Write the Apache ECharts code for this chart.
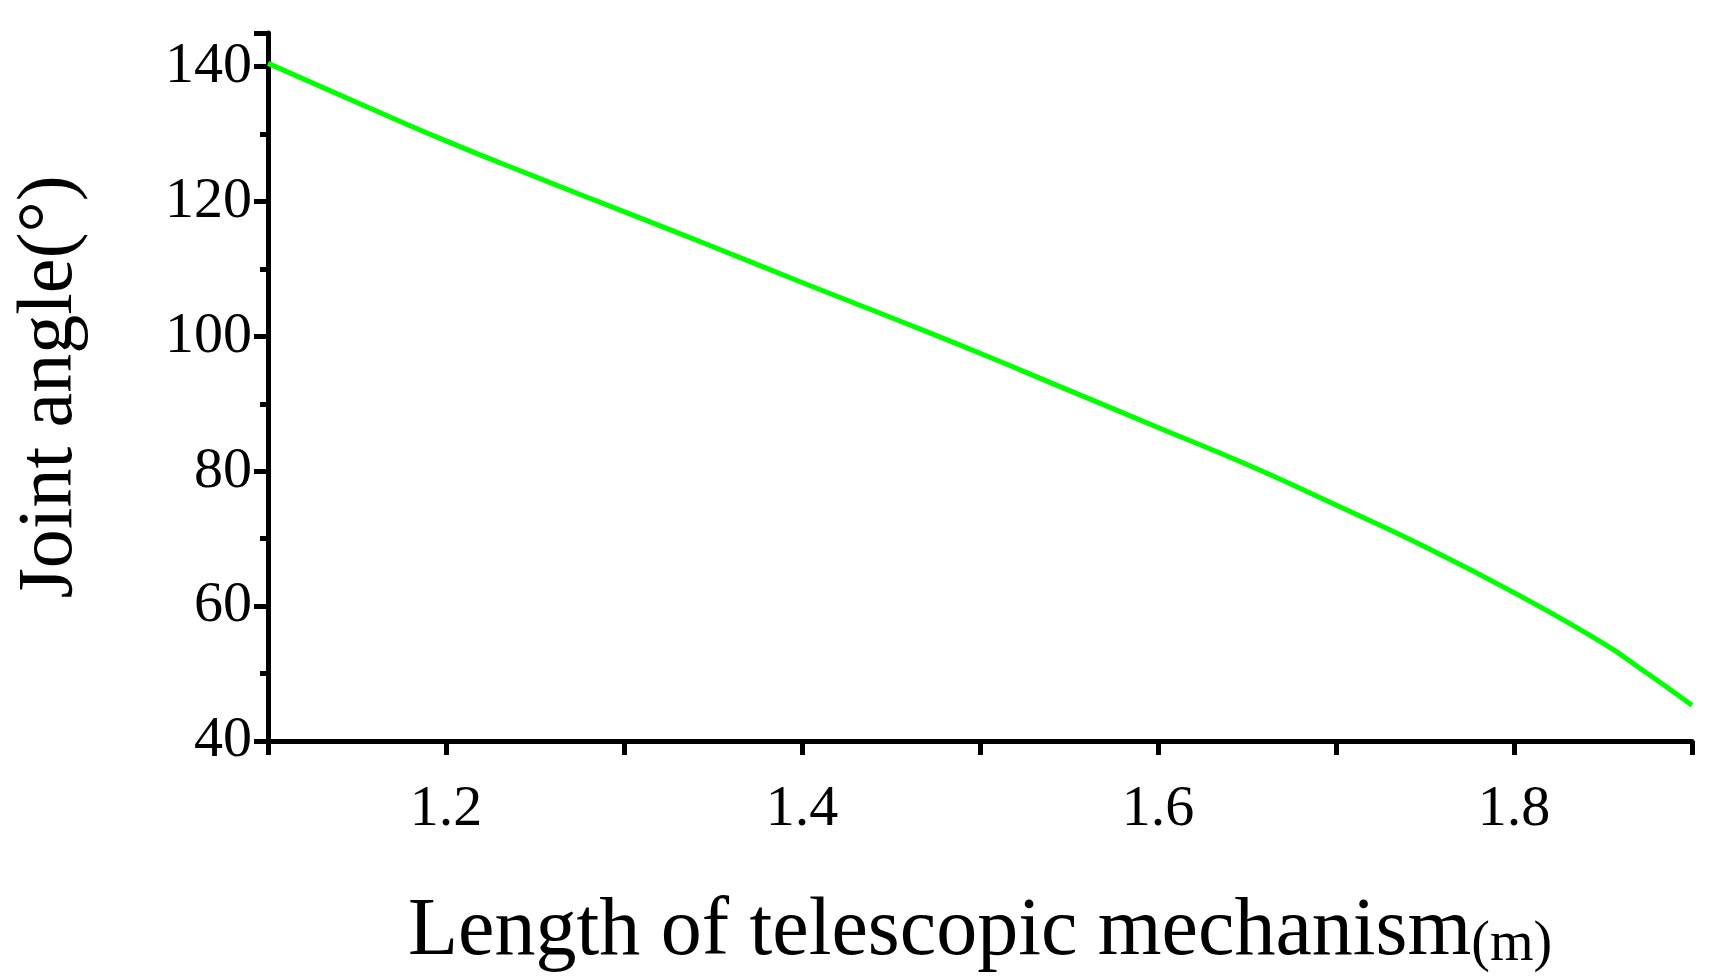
<!DOCTYPE html>
<html><head><meta charset="utf-8">
<script src="https://cdn.jsdelivr.net/npm/echarts@6/dist/echarts.min.js"></script>
<style>html,body{margin:0;background:#fff}#c{width:1728px;height:978px}</style>
</head><body><div id="c"></div>
<script>
var lengths = [1.1, 1.15, 1.2, 1.25, 1.3, 1.35, 1.4, 1.45, 1.5, 1.55, 1.6, 1.65, 1.7, 1.75, 1.8, 1.85, 1.875, 1.9];
var angles = [140.5, 134.7, 129, 123.7, 118.5, 113.3, 108, 102.8, 97.5, 92, 86.5, 81, 75, 68.8, 62, 54.5, 50, 45.3];
var xLabels = ['1.2', '1.4', '1.6', '1.8'];

var font = 'Liberation Serif';
var chart = echarts.init(document.getElementById('c'));
chart.setOption({
    animation: false,
    grid: {left: 268, right: 36, top: 33, bottom: 206},
    xAxis: {
        type: 'value', min: 1.1, max: 1.9, interval: 0.1,
        axisLine: {lineStyle: {color: '#000', width: 5}},
        axisTick: {length: 14, lineStyle: {color: '#000', width: 5}},
        splitLine: {show: false},
        axisLabel: {
            color: '#000', fontFamily: font, fontSize: 58, margin: 40,
            formatter: function (v) {
                var s = v.toFixed(1);
                return xLabels.indexOf(s) >= 0 ? s : '';
            }
        },
        name: '{a|Length of telescopic mechanism}{b|(m)}',
        nameLocation: 'middle', nameGap: 150,
        nameTextStyle: {
            rich: {
                a: {fontFamily: font, fontSize: 82, color: '#000'},
                b: {fontFamily: font, fontSize: 56, color: '#000', verticalAlign: 'bottom'}
            }
        }
    },
    yAxis: {
        type: 'value', min: 40, max: 145, interval: 20,
        axisLine: {show: true, lineStyle: {color: '#000', width: 5}},
        axisTick: {show: true, length: 14, lineStyle: {color: '#000', width: 5}},
        minorTick: {show: true, splitNumber: 2, length: 8, lineStyle: {color: '#000', width: 5}},
        splitLine: {show: false},
        axisLabel: {color: '#000', fontFamily: font, fontSize: 58, margin: 16, showMaxLabel: false},
        name: 'Joint angle(°)', nameLocation: 'middle', nameGap: 178,
        nameTextStyle: {fontFamily: font, fontSize: 78, color: '#000'}
    },
    series: [{
        type: 'line', smooth: true, showSymbol: false,
        lineStyle: {color: '#00ff00', width: 5},
        data: lengths.map(function (x, i) { return [x, angles[i]]; })
    }]
});
</script></body></html>
